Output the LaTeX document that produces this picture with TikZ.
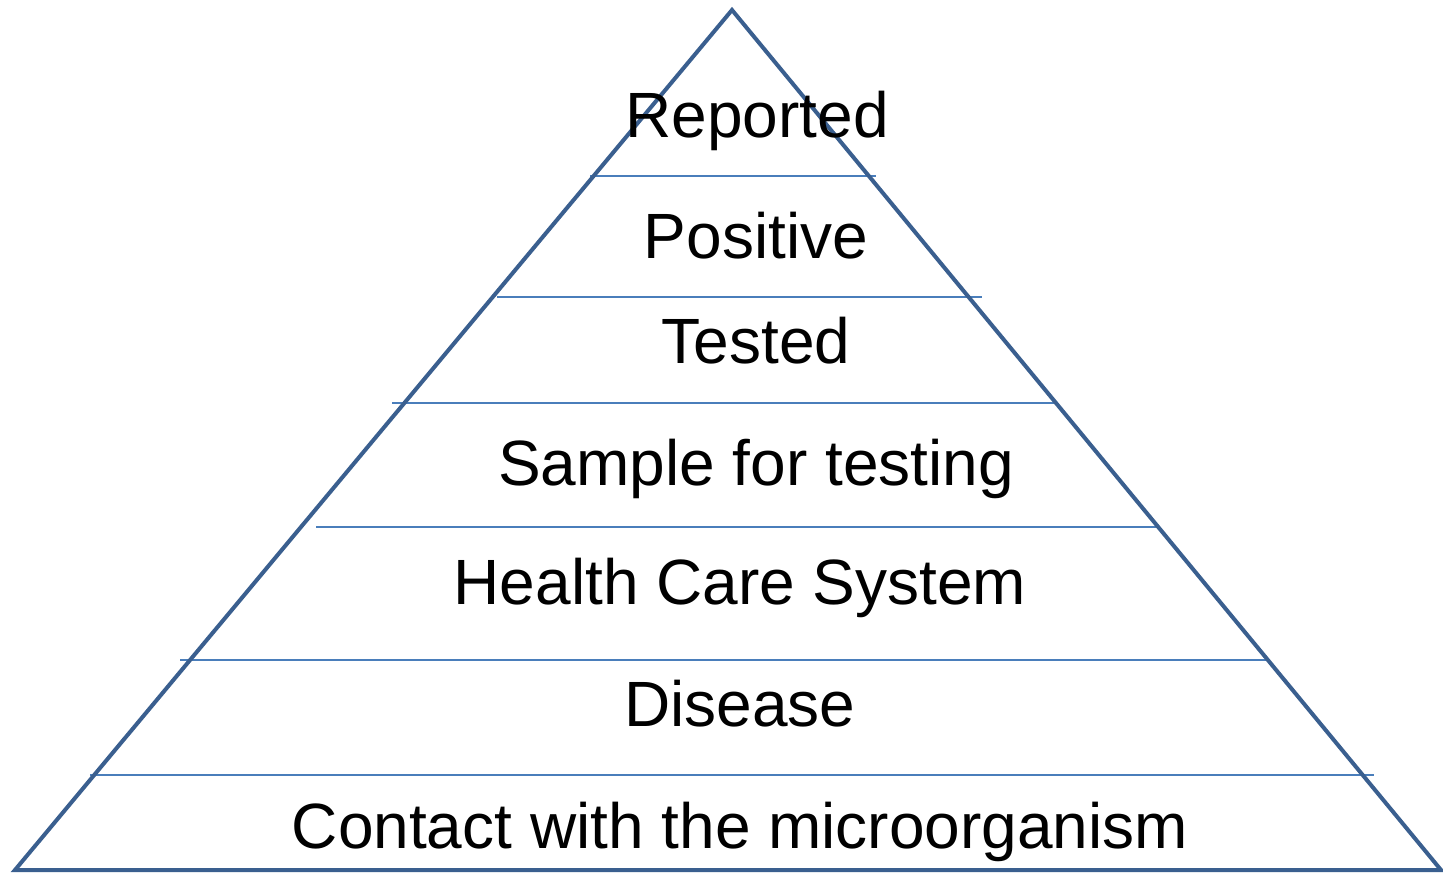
\documentclass[tikz,border=0pt]{standalone}
\usepackage{fontspec}
\setmainfont{Liberation Sans}
\definecolor{edgeblue}{HTML}{3A5F8F}
\definecolor{lineblue}{HTML}{4A7EBB}
\tikzset{
  tri/.style={draw=edgeblue, line width=4pt, line join=miter},
  sep/.style={draw=lineblue, line width=2pt},
  lbl/.style={anchor=base, inner sep=0pt, font=\fontsize{64}{70}\selectfont}
}
\begin{document}
\begin{tikzpicture}[x=1pt,y=-1pt]
\useasboundingbox (0,0) rectangle (1443,873);
\coordinate (apex) at (732,10);
\coordinate (bl) at (15,870);
\coordinate (br) at (1441,870);
% separators
\coordinate (s1a) at (590,176); \coordinate (s1b) at (876,176);
\coordinate (s2a) at (497,297); \coordinate (s2b) at (982,297);
\coordinate (s3a) at (392,403); \coordinate (s3b) at (1058,403);
\coordinate (s4a) at (316,527); \coordinate (s4b) at (1160,527);
\coordinate (s5a) at (180,660); \coordinate (s5b) at (1269,660);
\coordinate (s6a) at (90,775);  \coordinate (s6b) at (1374,775);
\foreach \i in {1,...,6} {\draw[sep] (s\i a) -- (s\i b);}
\draw[tri] (apex) -- (br) -- (bl) -- cycle;
\node[lbl] (reported) at (757,137) {Reported};
\node[lbl] (positive) at (756,258) {Positive};
\node[lbl] (tested) at (756,363) {Tested};
\node[lbl] (sample) at (756,485) {Sample for testing};
\node[lbl] (health) at (740,604) {Health Care System};
\node[lbl] (disease) at (740,726) {Disease};
\node[lbl] (contact) at (740,848) {Contact with the microorganism};
\end{tikzpicture}
\end{document}
